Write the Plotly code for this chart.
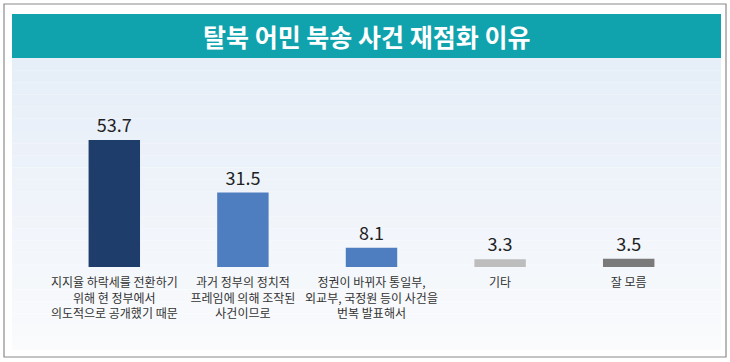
import plotly.graph_objects as go

title = "탈북 어민 북송 사건 재점화 이유"
categories = [
    "지지율 하락세를 전환하기<br>위해 현 정부에서<br>의도적으로 공개했기 때문",
    "과거 정부의 정치적<br>프레임에 의해 조작된<br>사건이므로",
    "정권이 바뀌자 통일부,<br>외교부, 국정원 등이 사건을<br>번복 발표해서",
    "기타",
    "잘 모름",
]
values = [53.7, 31.5, 8.1, 3.3, 3.5]
colors = ["#1f3d6b", "#4f7ec0", "#4f7ec0", "#bdbdbd", "#7a7a7a"]

W, H = 730, 362
L, R, T, B = 50, 37, 101, 95
PW, PH = W - L - R, H - T - B

def px(x):
    return (x - L) / PW

def py(y):
    return (H - B - y) / PH

FONT = "Noto Sans CJK KR"

fig = go.Figure(go.Bar(
    x=list(range(len(values))), y=values,
    marker=dict(color=colors, line=dict(width=0)),
    text=[f"{v:.1f}" for v in values], textposition="outside",
    textfont=dict(size=18, color="#222222", family=FONT),
    cliponaxis=False, width=0.4, hoverinfo="skip",
))

shapes = []
shapes.append(dict(type="rect", xref="paper", yref="paper",
                   x0=px(4), x1=px(726), y0=py(357), y1=py(4),
                   line=dict(color="#8a8a8a", width=1.2), fillcolor="#ffffff", layer="below"))
n = 24
top, bot = 58, 350
for i in range(n):
    y0 = top + (bot - top) * i / n
    y1 = top + (bot - top) * (i + 1) / n
    t = i / (n - 1)
    r = int(230 + (250 - 230) * t)
    g = int(238 + (251 - 238) * t)
    b = int(248 + (253 - 248) * t)
    shapes.append(dict(type="rect", xref="paper", yref="paper",
                       x0=px(12), x1=px(721), y0=py(y1), y1=py(y0),
                       line=dict(width=0), fillcolor=f"rgb({r},{g},{b})", layer="below"))
shapes.append(dict(type="rect", xref="paper", yref="paper",
                   x0=px(12), x1=px(721), y0=py(58), y1=py(14),
                   line=dict(width=0), fillcolor="#10a3ad", layer="below"))

annotations = [dict(text="<b>" + title + "</b>", xref="paper", yref="paper", x=px(366), y=py(36),
                    showarrow=False, xanchor="center", yanchor="middle",
                    font=dict(size=25, color="white", family=FONT))]

fig.update_layout(
    width=W, height=H,
    margin=dict(l=L, r=R, t=T, b=B, autoexpand=False),
    paper_bgcolor="white", plot_bgcolor="rgba(0,0,0,0)",
    showlegend=False,
    shapes=shapes, annotations=annotations,
    xaxis=dict(tickvals=list(range(len(values))), ticktext=categories,
               range=[-0.5, 4.5], showgrid=False, zeroline=False, showline=False,
               ticks="", ticklabelstandoff=7,
               tickfont=dict(size=12, color="#333333", family=FONT)),
    yaxis=dict(range=[0, 70.2], visible=False),
)

fig.write_html("out.html", config={"displayModeBar": False},
               post_script="document.body.style.margin='0';document.body.style.overflow='hidden';")
